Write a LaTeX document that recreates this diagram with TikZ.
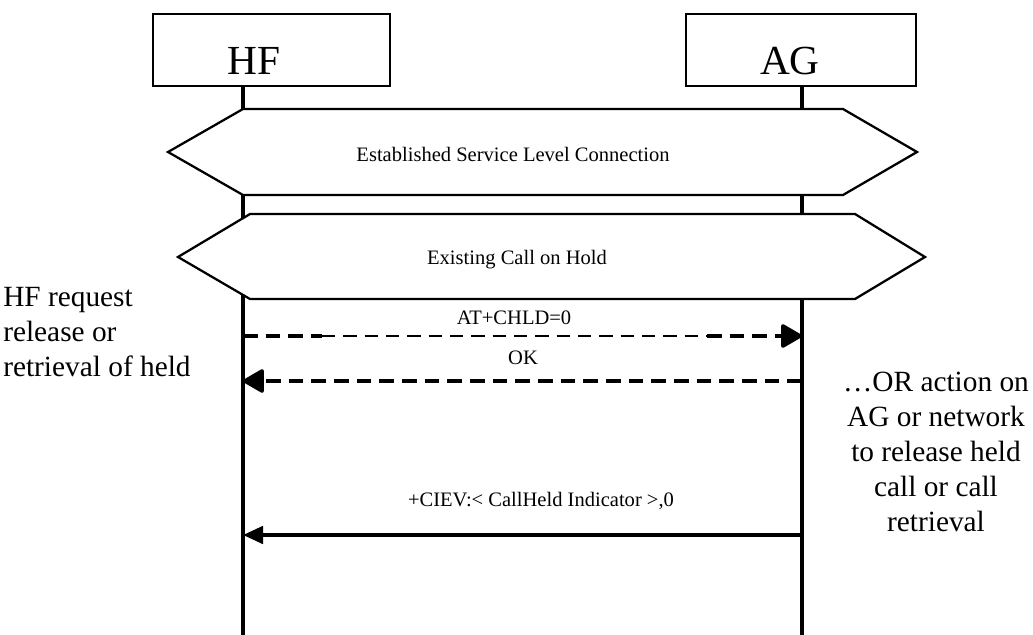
\documentclass[tikz,border=0pt]{standalone}
\usepackage{fontspec}
\setmainfont{Liberation Serif}
\usetikzlibrary{arrows.meta}
\begin{document}
\begin{tikzpicture}[x=0.75pt,y=-0.75pt,
  entitybox/.style={draw,line width=0.8pt,minimum width=177.75pt,minimum height=54pt,inner sep=0pt},
  entitytext/.style={font=\fontsize{31}{31}\selectfont,inner sep=0pt},
  lifeline/.style={line width=2.6pt},
  hexa/.style={draw,line width=1.7pt,fill=white},
  msgtext/.style={font=\fontsize{15.4}{17}\selectfont,inner sep=0pt},
  sidetext/.style={font=\fontsize{22}{26.25}\selectfont,inner sep=0pt},
  msg/.style={line width=2.8pt,-{Triangle[length=15pt,width=13pt]}},
  dline/.style={line width=2.6pt,dash pattern=on 11pt off 6pt},
  thinline/.style={line width=1.1pt,dash pattern=on 10pt off 6pt},
  dhead/.style={-{Triangle[length=17pt,width=19pt,round]}},
]
\useasboundingbox (0,0) rectangle (1033,635);
% entities
\node[entitybox] (hfbox) at (271.5,50) {};
\node[entitybox,minimum width=172.5pt] (agbox) at (801,50) {};
\node[entitytext] (hflbl) at (254,61) {HF};
\node[entitytext] (aglbl) at (790,61) {AG};
% lifelines
\coordinate (hftop) at (243,86);
\coordinate (hfbot) at (243,635);
\coordinate (agtop) at (802,86);
\coordinate (agbot) at (802,635);
\draw[lifeline] (hftop) -- (hfbot);
\draw[lifeline] (agtop) -- (agbot);
% hexagons
\draw[hexa] (168,152) -- (243,109) -- (843,109) -- (917,152) -- (843,195) -- (243,195) -- cycle;
\node[msgtext] (slc) at (513,154) {Established Service Level Connection};
\draw[hexa] (178,257) -- (250,214) -- (855,214) -- (925,257) -- (855,299) -- (250,299) -- cycle;
\node[msgtext] (hold) at (517,260) {Existing Call on Hold};
% messages
\coordinate (hf1) at (243,336);
\coordinate (m1a) at (322,336);
\coordinate (m1b) at (707,336);
\coordinate (ag1) at (802,336);
\coordinate (hf2) at (243,381);
\coordinate (ag2) at (802,381);
\coordinate (hf3) at (243,535);
\coordinate (ag3) at (802,535);
\draw[dline] (hf1) -- (m1a);
\draw[thinline] (m1a) -- (m1b);
\draw[dline,dhead] (m1b) -- (ag1);
\node[msgtext] (m1) at (514,318) {AT+CHLD=0};
\draw[dline,dhead] (ag2) -- (hf2);
\node[msgtext] (m2) at (523,358) {OK};
\draw[msg] (ag3) -- (hf3);
\node[msgtext] (m3) at (541,501) {+CIEV:< CallHeld Indicator >,0};
% side notes
\node[sidetext,align=left,anchor=north west] (left) at (3,287) {HF request\\release or\\retrieval of held};
\node[sidetext,align=center,anchor=north] (right) at (936,372) {…OR action on\\AG or network\\to release held\\call or call\\retrieval};
\end{tikzpicture}
\end{document}
